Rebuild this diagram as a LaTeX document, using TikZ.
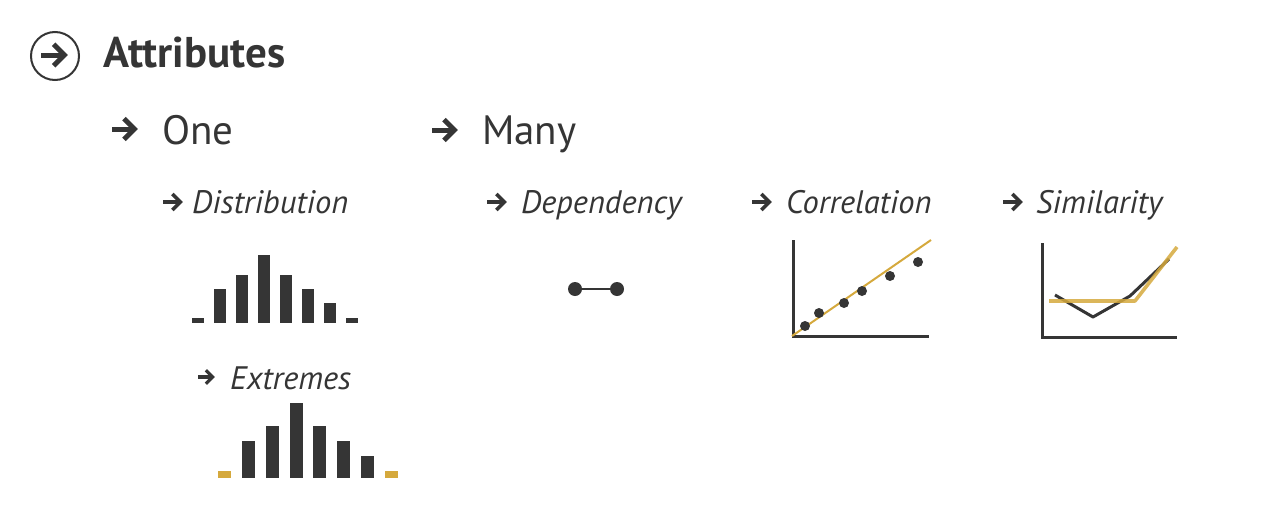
\documentclass[tikz,border=0pt]{standalone}
\usepackage{fontspec}
\setmainfont{PT Sans}
\begin{document}
\definecolor{ink}{HTML}{353535}
\definecolor{gold}{HTML}{D5A93D}
\tikzset{
  x=1pt, y=-1pt,
  pics/harrow/.style 2 args={code={
    % #1 = length, #2 = line width
    \pgfmathsetmacro{\hh}{0.40*#1}
    \pgfmathsetmacro{\ax}{#1-0.72*#2}
    \draw[ink, line width=#2pt] (0,0) -- (\ax-0.5*#2,0);
    \draw[ink, line width=#2pt, line join=miter, miter limit=10]
      (\ax-\hh,-\hh) -- (\ax,0) -- (\ax-\hh,\hh);
  }},
  lab/.style={anchor=base west, inner sep=0pt, text=ink},
  title/.style={lab, font=\fontsize{43}{43}\selectfont\bfseries},
  head/.style={lab, font=\fontsize{41}{41}\selectfont},
  sub/.style={lab, font=\fontsize{32.5}{32.5}\selectfont\itshape},
  axis/.style={draw=ink, line width=3pt},
  dot/.style={circle, fill=ink, inner sep=0pt, minimum size=10pt},
}
\begin{tikzpicture}
\useasboundingbox (0,0) rectangle (1281,525);

% title
\node[circle, draw=ink, line width=2pt, minimum size=48pt, inner sep=0pt] (circ) at (55,56) {};
\pic at (41,55) {harrow={27}{5}};
\node[title] (attr) at (103,67) {Attributes};

% level 1
\pic at (112,129) {harrow={26}{5}};
\node[head] (one) at (162,144) {One};
\pic at (432,130) {harrow={26}{5}};
\node[head] (many) at (482,144) {Many};

% level 2
\pic at (163,202) {harrow={20}{3.6}};
\node[sub] (dist) at (192,213) {Distribution};
\pic at (487,202) {harrow={20}{3.6}};
\node[sub] (dep) at (521,213) {Dependency};
\pic at (752,202) {harrow={20}{3.6}};
\node[sub] (corr) at (786,213) {Correlation};
\pic at (1003,202) {harrow={20}{3.6}};
\node[sub] (sim) at (1036,213) {Similarity};
\pic at (198,377) {harrow={17}{3.2}};
\node[sub] (ext) at (230,389) {Extremes};

% distribution histogram
\foreach \x/\h in {192/5, 214/34, 236/48, 258/68, 280/48, 302/34, 324/20, 346/5}
  \fill[ink] (\x,323) rectangle ++(12,-\h);

% extremes histogram
\fill[gold] (218,478) rectangle ++(13,-7);
\foreach \x/\h in {242/37, 266/52, 290/75, 313/52, 337/37, 361/22}
  \fill[ink] (\x,478) rectangle ++(13,-\h);
\fill[gold] (385,478) rectangle ++(13,-7);

% dependency
\node[dot, minimum size=14pt] (d1) at (575,289) {};
\node[dot, minimum size=14pt] (d2) at (617,289) {};
\draw[ink, line width=2pt] (d1) -- (d2);

% correlation
\coordinate (cO) at (793,336);
\draw[axis] (793,240) -- (cO) -- (929,336);
\draw[gold, line width=2pt] (792,336) -- (931,240);
\foreach \x/\y [count=\i] in {805/326, 819/313, 844/303, 862/291, 890/276, 918/262}
  \node[dot] (c\i) at (\x,\y) {};

% similarity
\draw[axis] (1042,243) -- (1042,337) -- (1177,337);
\draw[ink, line width=3pt, line join=round] (1055,295) -- (1093,317) -- (1130,296) -- (1169,259);
\draw[gold, opacity=0.85, line width=3.6pt, line join=round] (1049,301) -- (1135,301) -- (1177,247);
\end{tikzpicture}
\end{document}
